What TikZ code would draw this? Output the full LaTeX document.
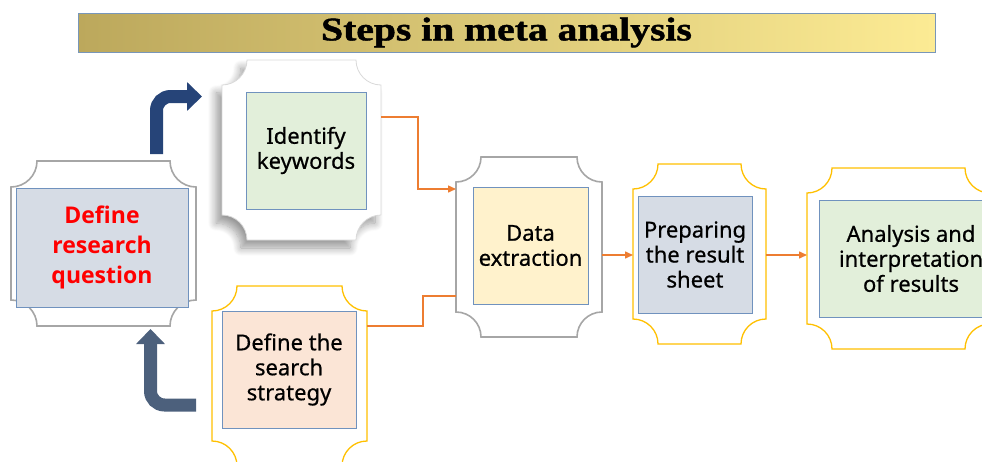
\documentclass[tikz,border=0pt]{standalone}
\usepackage{fontspec}
\setmainfont{Noto Sans}
\newfontfamily\cardfont{Noto Sans}[FakeBold=0.6]
\newfontfamily\leadfont{Open Sans}
\newfontfamily\titlefont{Liberation Serif}[FakeBold=1.2]
\usetikzlibrary{arrows.meta,shadows.blur,calc}

\definecolor{cardline}{RGB}{112,146,190}
\definecolor{qfill}{RGB}{214,220,229}
\definecolor{kfill}{RGB}{226,239,218}
\definecolor{sfill}{RGB}{251,229,214}
\definecolor{dfill}{RGB}{255,242,204}
\definecolor{goldline}{RGB}{255,192,0}
\definecolor{greyline}{RGB}{166,166,166}
\definecolor{linkorange}{RGB}{237,125,49}
\definecolor{arrowdark}{RGB}{38,68,120}
\definecolor{arrowslate}{RGB}{76,96,124}
\definecolor{barleft}{RGB}{188,168,92}
\definecolor{barright}{RGB}{252,235,148}
\definecolor{barline}{RGB}{120,150,185}

% plaque outline round an empty frame node: #1 node, #2 corner radius, #3 style
\newcommand\plaque[3]{%
  \path[#3] let \p1=(#1.north west), \p2=(#1.south east) in
    (\x1+#2pt,\y1) -- (\x2-#2pt,\y1)
    .. controls (\x2-#2pt,\y1-0.552*#2pt) and (\x2-0.552*#2pt,\y1-#2pt) .. (\x2,\y1-#2pt)
    -- (\x2,\y2+#2pt)
    .. controls (\x2-0.552*#2pt,\y2+#2pt) and (\x2-#2pt,\y2+0.552*#2pt) .. (\x2-#2pt,\y2)
    -- (\x1+#2pt,\y2)
    .. controls (\x1+#2pt,\y2+0.552*#2pt) and (\x1+0.552*#2pt,\y2+#2pt) .. (\x1,\y2+#2pt)
    -- (\x1,\y1-#2pt)
    .. controls (\x1+0.552*#2pt,\y1-#2pt) and (\x1+#2pt,\y1-0.552*#2pt) .. cycle;}

\tikzset{
  frame/.style={inner sep=0pt, outer sep=0pt},
  card/.style={draw=cardline, line width=0.8pt, align=center, inner sep=0pt,
    outer sep=0pt, font=\cardfont\fontsize{22}{25}\selectfont},
  lead/.style={card, text=red, font=\leadfont\bfseries\fontsize{23}{30}\selectfont},
  plaquegrey/.style={draw=greyline, line width=1.6pt, fill=white},
  plaquegold/.style={draw=goldline, line width=1.3pt, fill=white},
  plaquepale/.style={draw=black!15, line width=0.8pt, fill=white,
    blur shadow={shadow xshift=-6pt, shadow yshift=-8pt,
      shadow blur radius=8pt, shadow opacity=40, shadow blur steps=12}},
  link/.style={draw=linkorange, line width=1.5pt},
  linktip/.style={-{Triangle[length=8pt,width=7pt]}},
  bentarrow/.style={line width=13pt, rounded corners=14pt,
    -{Triangle[length=15pt,width=28pt]}},
  titlebar/.style={draw=barline, line width=0.8pt, left color=barleft,
    right color=barright, minimum width=857pt, minimum height=39pt,
    inner sep=0pt, font=\titlefont\bfseries\fontsize{33}{34}\selectfont}
}

\begin{document}
\begin{tikzpicture}[x=1pt,y=-1pt]
  \useasboundingbox (0,0) rectangle (982,461);
  \clip (0,0) rectangle (982,461);

  \node[titlebar] (title) at (506.5,32.5) {\scalebox{1.2}[1]{Steps in meta analysis}};

  % frames
  \node[frame, minimum width=185pt, minimum height=165pt] (fQuestion) at (103.5,243.5) {};
  \node[frame, minimum width=159pt, minimum height=180pt] (fKey) at (301.5,150) {};
  \node[frame, minimum width=155pt, minimum height=180pt] (fSearch) at (289.5,376) {};
  \node[frame, minimum width=146pt, minimum height=180pt] (fData) at (529,247) {};
  \node[frame, minimum width=133pt, minimum height=180pt] (fPrep) at (699.5,254) {};
  \node[frame, minimum width=183pt, minimum height=181pt] (fResult) at (898.5,258.5) {};

  \plaque{fQuestion}{26}{plaquegrey}
  \plaque{fKey}{25}{plaquepale}
  \plaque{fSearch}{25}{plaquegold}
  \plaque{fData}{25}{plaquegrey}
  \plaque{fPrep}{25}{plaquegold}
  \plaque{fResult}{25}{plaquegold}

  % cards
  \node[lead, fill=qfill, minimum width=172pt, minimum height=119pt] (nQuestion) at (102,247.5) {Define\\research\\question};
  \node[card, fill=kfill, minimum width=120pt, minimum height=117pt] (nKey) at (306,150.5) {Identify\\keywords};
  \node[card, fill=sfill, minimum width=134pt, minimum height=117pt] (nSearch) at (289,369.5) {Define the\\search\\strategy};
  \node[card, fill=dfill, minimum width=115pt, minimum height=117pt] (nData) at (530.5,245.5) {Data\\extraction};
  \node[card, fill=qfill, minimum width=114pt, minimum height=117pt] (nPrep) at (695,254.5) {Preparing\\the result\\sheet};
  \node[card, fill=kfill, minimum width=184pt, minimum height=117pt] (nResult) at (911,258.5) {Analysis and\\interpretation\\of results};

  % bent arrows
  \draw[bentarrow, arrowdark, shorten <=7pt, shorten >=20pt]
    (fQuestion.north -| 156.5,0) |- (fKey.west |- 0,96.5);
  \draw[bentarrow, arrowslate, shorten <=16pt, shorten >=3pt]
    (fSearch.west |- 0,405) -| (fQuestion.south -| 150.5,0);

  % connectors
  \draw[link, linktip] (fKey.east |- 0,117) -- ++(37,0) |- (fData.west |- 0,189);
  \draw[link] (fSearch.east |- 0,326) -- ++(56,0) |- (fData.west |- 0,296);
  \draw[link, linktip] (fData.east |- 0,255) -- (fPrep.west |- 0,255);
  \draw[link, linktip] (fPrep.east |- 0,255) -- (fResult.west |- 0,255);
\end{tikzpicture}
\end{document}
